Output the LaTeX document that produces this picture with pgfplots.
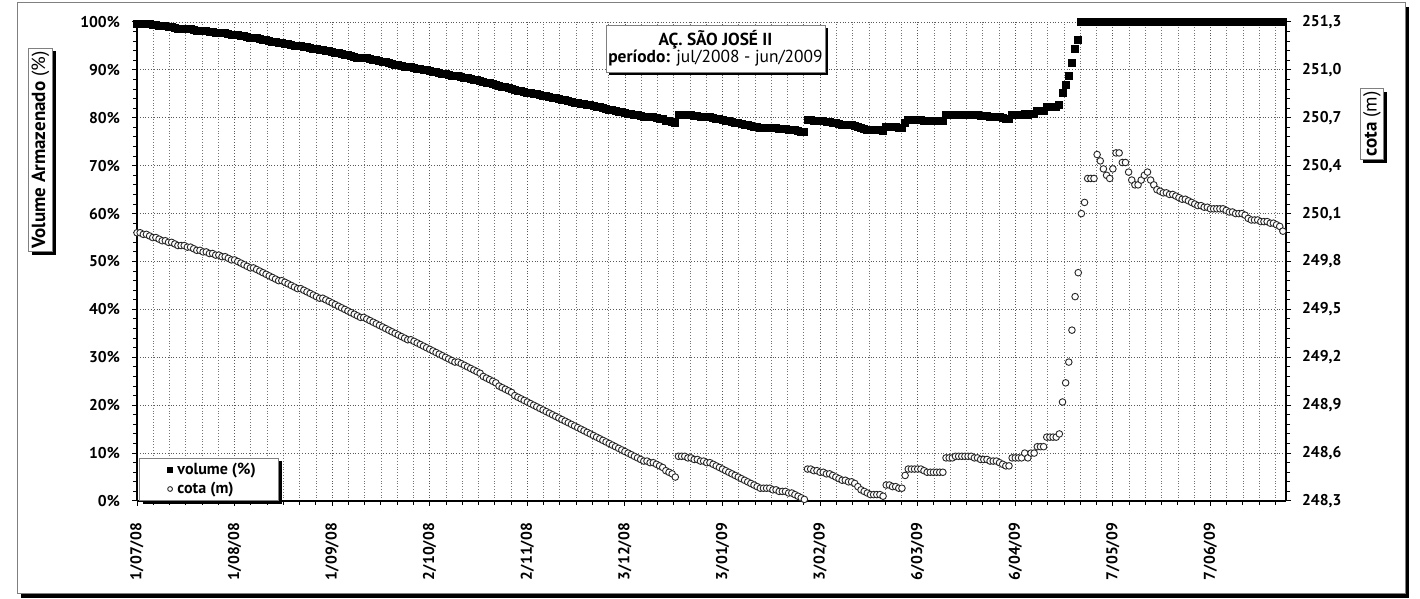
\documentclass[border=0pt]{standalone}
\usepackage{fontspec}
\setmainfont{PT Sans}
\usepackage{pgfplots}
\pgfplotsset{compat=1.18}
\usepackage{pgfplotstable}
\usetikzlibrary{shadows}

\pgfplotstableread{
d c v
0 249.98 99.7
1 249.98 99.7
2 249.97 99.6
3 249.97 99.6
4 249.96 99.5
5 249.95 99.3
6 249.95 99.3
7 249.94 99.2
8 249.93 99.1
9 249.93 99.1
10 249.92 98.9
11 249.92 98.9
12 249.91 98.8
13 249.90 98.6
14 249.90 98.6
15 249.90 98.6
16 249.89 98.5
17 249.89 98.5
18 249.88 98.4
19 249.87 98.2
20 249.87 98.2
21 249.86 98.1
22 249.86 98.1
23 249.85 98.0
24 249.85 98.0
25 249.84 97.8
26 249.84 97.8
27 249.83 97.7
28 249.83 97.7
29 249.82 97.6
30 249.81 97.4
31 249.81 97.4
32 249.80 97.3
33 249.79 97.1
34 249.78 97.0
35 249.77 96.9
36 249.76 96.7
37 249.76 96.7
38 249.75 96.6
39 249.74 96.5
40 249.73 96.3
41 249.72 96.2
42 249.71 96.1
43 249.70 95.9
44 249.69 95.8
45 249.68 95.6
46 249.68 95.6
47 249.67 95.5
48 249.66 95.4
49 249.65 95.2
50 249.64 95.1
51 249.63 95.0
52 249.63 95.0
53 249.62 94.8
54 249.61 94.7
55 249.60 94.6
56 249.59 94.4
57 249.58 94.3
58 249.57 94.1
59 249.57 94.1
60 249.56 94.0
61 249.55 93.9
62 249.54 93.7
63 249.53 93.6
64 249.52 93.5
65 249.51 93.3
66 249.50 93.2
67 249.49 93.1
68 249.48 92.9
69 249.47 92.8
70 249.46 92.6
71 249.45 92.5
72 249.45 92.5
73 249.44 92.4
74 249.43 92.2
75 249.42 92.1
76 249.41 92.0
77 249.40 91.8
78 249.39 91.7
79 249.38 91.6
80 249.37 91.4
81 249.36 91.3
82 249.35 91.1
83 249.34 91.0
84 249.33 90.9
85 249.32 90.7
86 249.31 90.6
87 249.31 90.6
88 249.30 90.5
89 249.29 90.3
90 249.28 90.2
91 249.27 90.1
92 249.26 89.9
93 249.25 89.8
94 249.24 89.6
95 249.23 89.5
96 249.22 89.4
97 249.21 89.2
98 249.20 89.1
99 249.19 89.0
100 249.18 88.8
101 249.17 88.7
102 249.17 88.7
103 249.16 88.6
104 249.15 88.4
105 249.14 88.3
106 249.13 88.2
107 249.12 88.0
108 249.11 87.9
109 249.10 87.7
110 249.08 87.5
111 249.07 87.3
112 249.06 87.2
113 249.05 87.1
114 249.04 86.9
115 249.02 86.7
116 249.01 86.5
117 249.00 86.4
118 248.99 86.2
119 248.98 86.1
120 248.96 85.8
121 248.95 85.7
122 248.94 85.6
123 248.93 85.4
124 248.92 85.3
125 248.91 85.2
126 248.90 85.0
127 248.89 84.9
128 248.88 84.7
129 248.87 84.6
130 248.86 84.5
131 248.85 84.3
132 248.84 84.2
133 248.83 84.1
134 248.82 83.9
135 248.81 83.8
136 248.80 83.7
137 248.79 83.5
138 248.78 83.4
139 248.77 83.2
140 248.76 83.1
141 248.75 83.0
142 248.74 82.8
143 248.73 82.7
144 248.72 82.6
145 248.71 82.4
146 248.70 82.3
147 248.69 82.2
148 248.68 82.0
149 248.67 81.9
150 248.66 81.7
151 248.65 81.6
152 248.64 81.5
153 248.63 81.3
154 248.62 81.2
155 248.61 81.1
156 248.60 80.9
157 248.59 80.8
158 248.58 80.7
159 248.57 80.5
160 248.56 80.4
161 248.55 80.2
162 248.55 80.2
163 248.54 80.1
164 248.54 80.1
165 248.53 80.0
166 248.52 79.8
167 248.51 79.7
168 248.49 79.4
169 248.48 79.3
170 248.47 79.2
171 248.45 78.9
172 248.58 80.7
173 248.58 80.7
174 248.58 80.7
175 248.57 80.5
176 248.57 80.5
177 248.56 80.4
178 248.56 80.4
179 248.55 80.2
180 248.55 80.2
181 248.54 80.1
182 248.54 80.1
183 248.53 80.0
184 248.52 79.8
185 248.51 79.7
186 248.50 79.6
187 248.49 79.4
188 248.48 79.3
189 248.47 79.2
190 248.46 79.0
191 248.45 78.9
192 248.44 78.7
193 248.43 78.6
194 248.42 78.5
195 248.41 78.3
196 248.40 78.2
197 248.39 78.1
198 248.38 77.9
199 248.38 77.9
200 248.38 77.9
201 248.38 77.9
202 248.37 77.8
203 248.37 77.8
204 248.36 77.7
205 248.36 77.7
206 248.36 77.7
207 248.35 77.5
208 248.35 77.5
209 248.34 77.4
210 248.33 77.2
211 248.32 77.1
212 248.31 77.0
213 248.50 79.6
214 248.50 79.6
215 248.49 79.4
216 248.49 79.4
217 248.48 79.3
218 248.48 79.3
219 248.47 79.2
220 248.47 79.2
221 248.46 79.0
222 248.45 78.9
223 248.44 78.7
224 248.43 78.6
225 248.43 78.6
226 248.42 78.5
227 248.42 78.5
228 248.41 78.3
229 248.39 78.1
230 248.37 77.8
231 248.36 77.7
232 248.35 77.5
233 248.34 77.4
234 248.34 77.4
235 248.34 77.4
236 248.34 77.4
237 248.33 77.2
238 248.40 78.2
239 248.40 78.2
240 248.39 78.1
241 248.39 78.1
242 248.38 77.9
243 248.38 77.9
244 248.46 79.0
245 248.50 79.6
246 248.50 79.6
247 248.50 79.6
248 248.50 79.6
249 248.50 79.6
250 248.49 79.4
251 248.48 79.3
252 248.48 79.3
253 248.48 79.3
254 248.48 79.3
255 248.48 79.3
256 248.48 79.3
257 248.57 80.5
258 248.57 80.5
259 248.57 80.5
260 248.58 80.7
261 248.58 80.7
262 248.58 80.7
263 248.58 80.7
264 248.58 80.7
265 248.58 80.7
266 248.57 80.5
267 248.57 80.5
268 248.56 80.4
269 248.56 80.4
270 248.56 80.4
271 248.55 80.2
272 248.55 80.2
273 248.55 80.2
274 248.54 80.1
275 248.53 80.0
276 248.52 79.8
277 248.52 79.8
278 248.57 80.5
279 248.57 80.5
280 248.57 80.5
281 248.57 80.5
282 248.60 80.9
283 248.57 80.5
284 248.60 80.9
285 248.60 80.9
286 248.64 81.5
287 248.64 81.5
288 248.64 81.5
289 248.70 82.3
290 248.70 82.3
291 248.70 82.3
292 248.70 82.3
293 248.72 82.6
294 248.92 85.3
295 249.04 86.9
296 249.17 88.7
297 249.37 91.4
298 249.58 94.3
299 249.73 96.3
300 250.10 100
301 250.17 100
302 250.32 100
303 250.32 100
304 250.32 100
305 250.47 100
306 250.43 100
307 250.38 100
308 250.34 100
309 250.32 100
310 250.38 100
311 250.48 100
312 250.48 100
313 250.42 100
314 250.42 100
315 250.36 100
316 250.31 100
317 250.28 100
318 250.28 100
319 250.31 100
320 250.34 100
321 250.36 100
322 250.31 100
323 250.28 100
324 250.25 100
325 250.24 100
326 250.23 100
327 250.23 100
328 250.22 100
329 250.22 100
330 250.21 100
331 250.20 100
332 250.19 100
333 250.19 100
334 250.18 100
335 250.17 100
336 250.16 100
337 250.15 100
338 250.15 100
339 250.14 100
340 250.14 100
341 250.13 100
342 250.13 100
343 250.13 100
344 250.13 100
345 250.13 100
346 250.12 100
347 250.11 100
348 250.11 100
349 250.10 100
350 250.10 100
351 250.10 100
352 250.09 100
353 250.07 100
354 250.06 100
355 250.06 100
356 250.06 100
357 250.05 100
358 250.05 100
359 250.05 100
360 250.04 100
361 250.04 100
362 250.03 100
363 250.02 100
364 249.99 100
}\data

\tikzset{myshadow/.style={drop shadow={shadow xshift=1.6pt, shadow yshift=-1.6pt, opacity=1, fill=black}}}

\pgfplotsset{
  common/.style={
    at={(68.5pt,49pt)}, anchor=south west,
    scale only axis, width=574.5pt, height=239.5pt,
    xmin=0, xmax=365,
    tick align=outside,
    major tick length=2.5pt, minor tick length=2pt,
    tick style={black, line width=0.5pt},
    axis line style={line width=0.6pt},
    /pgf/number format/assume math mode=true,
    ticklabel style={font=\bfseries\fontsize{7.8}{9}\selectfont},
    clip=false,
  }
}

\begin{document}
\begin{tikzpicture}
\useasboundingbox (0pt,0pt) rectangle (710pt,299.5pt);
\fill[black] (10.5pt,0.5pt) rectangle (704.5pt,296pt);
\draw[gray, fill=white, line width=0.5pt] (8.5pt,2.5pt) rectangle (702.5pt,298pt);

\begin{axis}[common,
  ymin=0, ymax=100,
  axis x line*=bottom, axis y line*=left,
  xtick={0,31,62,93,124,155,186,217,248,279,310,341},
  xticklabels={1/07/08,1/08/08,1/09/08,2/10/08,2/11/08,3/12/08,3/01/09,3/02/09,6/03/09,6/04/09,7/05/09,7/06/09},
  minor xtick={0,5.16667,...,365},
  xticklabel style={rotate=90, anchor=east},
  xticklabel shift=5pt,
  ytick={0,10,...,100},
  minor y tick num=4,
  yticklabel={\pgfmathprintnumber{\tick}\%},
  yticklabel shift=2.5pt,
  xmajorgrids, xminorgrids, ymajorgrids,
  major grid style={densely dotted, black!65, line width=0.4pt},
  minor grid style={densely dotted, black!55, line width=0.4pt},
]
\addplot[only marks, mark=square*, mark size=1.75pt, black] table[x=d, y=v] {\data};
\end{axis}

\begin{axis}[common,
  ymin=248.3, ymax=251.3,
  axis x line=none, axis y line*=right,
  ytick={248.3,248.6,248.9,249.2,249.5,249.8,250.1,250.4,250.7,251.0,251.3},
  minor y tick num=4,
  yticklabel style={/pgf/number format/.cd, fixed, fixed zerofill, precision=1, use comma},
  yticklabel shift=2pt,
  legend style={at={(rel axis cs:0.002,0)}, anchor=south west, draw=gray, fill=white,
    myshadow, font=\bfseries\fontsize{8}{9}\selectfont,
    inner xsep=2.5pt, inner ysep=1pt, row sep=0pt, nodes={inner ysep=1.2pt}},
  legend cell align=left,
  legend image code/.code={\path (0pt,0pt) coordinate (li1) (14pt,0pt) coordinate (li2); \draw[#1, mark size=1.2pt] plot coordinates {(12.5pt,0pt)};},
]
\addlegendimage{only marks, mark=square*, black}
\addlegendentry{volume (\%)\hspace*{7pt}}
\addplot[only marks, mark=*, mark size=1.65pt, mark options={fill=white, draw=black!85, line width=0.45pt}] table[x=d, y=c] {\data};
\addlegendentry{cota (m)}
\end{axis}

\node[draw=gray, fill=white, myshadow, align=center, minimum width=109.5pt, minimum height=23.5pt, inner sep=1pt, font=\fontsize{8.7}{8.6}\selectfont] at (357.75pt,275.25pt) {\textbf{AÇ. SÃO JOSÉ II}\\\textbf{período:} jul/2008 - jun/2009};

\node[rotate=90, draw=gray, fill=white, myshadow, inner sep=1.5pt, font=\fontsize{9.5}{10}\selectfont] at (20.25pt,224.5pt) {\textbf{Volume Armazenado} (\%)};

\node[rotate=90, draw=gray, fill=white, myshadow, inner sep=1.5pt, font=\fontsize{9.5}{10}\selectfont] at (686pt,237.5pt) {\textbf{cota} (m)};
\end{tikzpicture}
\end{document}
